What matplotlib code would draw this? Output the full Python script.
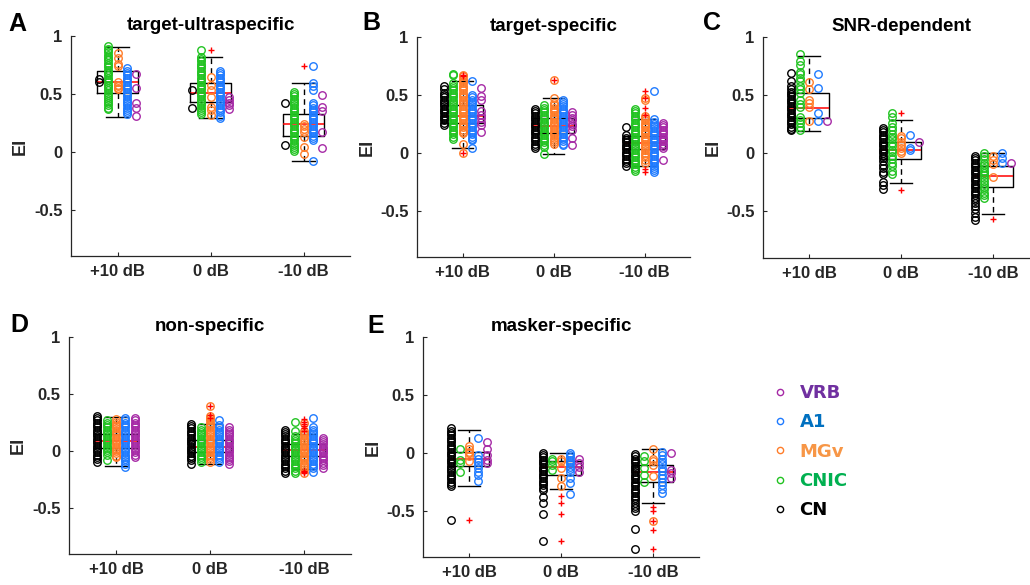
import matplotlib.pyplot as plt
from matplotlib.lines import Line2D
import numpy as np

plt.rcParams['font.family'] = ['Liberation Sans', 'DejaVu Sans']
plt.rcParams['axes.unicode_minus'] = False

conds = ['+10 dB', '0 dB', '-10 dB']
groups = ['CN', 'CNIC', 'MGv', 'A1', 'VRB']
group_cols = ['#000000', '#22c322', '#ff7d2a', '#1f7bff', '#a62aa6']
legend_order = ['VRB', 'A1', 'MGv', 'CNIC', 'CN']
legend_txt_cols = ['#7030a0', '#0070c0', '#f79646', '#00b050', '#000000']
offsets = [-0.2, -0.1, 0.0, 0.1, 0.2]

# ---- A: target-ultraspecific  (each condition: CN, CNIC, MGv, A1, VRB)
A_p10 = [[0.63, 0.60],
         [0.91, 0.89, 0.88, 0.86, 0.84, 0.82, 0.80, 0.79, 0.77, 0.75, 0.73, 0.71, 0.69, 0.68, 0.66, 0.64,
          0.62, 0.60, 0.58, 0.57, 0.55, 0.53, 0.51, 0.49, 0.47, 0.46, 0.44, 0.42, 0.40, 0.38, 0.37],
         [0.85, 0.81, 0.76, 0.74, 0.60, 0.58, 0.57, 0.55, 0.54],
         [0.72, 0.70, 0.68, 0.66, 0.64, 0.62, 0.60, 0.58, 0.56, 0.54, 0.52, 0.50, 0.48, 0.46, 0.44, 0.42,
          0.40, 0.38, 0.36, 0.34, 0.33],
         [0.67, 0.55, 0.42, 0.38, 0.31]]
A_0 = [[0.53, 0.38],
       [0.88, 0.82, 0.80, 0.78, 0.76, 0.74, 0.72, 0.70, 0.68, 0.66, 0.64, 0.62, 0.60, 0.58, 0.56, 0.54, 0.52,
        0.50, 0.48, 0.46, 0.44, 0.42, 0.40, 0.38, 0.36, 0.34, 0.33],
       [0.65, 0.58, 0.53, 0.47, 0.39, 0.36, 0.32],
       [0.70, 0.68, 0.66, 0.64, 0.62, 0.60, 0.58, 0.56, 0.54, 0.52, 0.50, 0.48, 0.46, 0.44, 0.42, 0.40, 0.38,
        0.36, 0.34, 0.31, 0.29],
       [0.47, 0.45, 0.42, 0.40, 0.37]]
A_m10 = [[0.42, 0.06],
         [0.52, 0.50, 0.48, 0.46, 0.44, 0.42, 0.40, 0.38, 0.36, 0.34, 0.32, 0.30, 0.28, 0.26, 0.24, 0.22, 0.20,
          0.18, 0.16, 0.14, 0.12, 0.10, 0.08, 0.06, 0.04, 0.02, 0.01],
         [0.24, 0.22, 0.20, 0.17, 0.13, 0.04, -0.02],
         [0.74, 0.59, 0.57, 0.53, 0.42, 0.40, 0.38, 0.36, 0.34, 0.32, 0.30, 0.28, 0.26, 0.24, 0.22, 0.20, 0.18,
          0.16, 0.14, 0.12, 0.10, -0.08],
         [0.49, 0.39, 0.35, 0.17, 0.03]]
# box: whislo, q1, median, q3, whishi
A_box = [[0.30, 0.51, 0.60, 0.70, 0.905], [0.29, 0.43, 0.51, 0.59, 0.82], [-0.08, 0.14, 0.24, 0.33, 0.59]]
A_out = [[], [0.88], [0.74]]

# ---- B: target-specific
B_p10 = [[0.58, 0.55, 0.52, 0.50, 0.48, 0.46, 0.44, 0.42, 0.40, 0.38, 0.36, 0.34, 0.32, 0.30, 0.28, 0.26, 0.24],
         [0.68, 0.67, 0.60, 0.58, 0.56, 0.54, 0.52, 0.50, 0.48, 0.46, 0.44, 0.42, 0.40, 0.38, 0.36, 0.34, 0.32,
          0.30, 0.28, 0.26, 0.24, 0.22, 0.20, 0.18, 0.16, 0.14, 0.12],
         [0.67, 0.66, 0.64, 0.62, 0.60, 0.58, 0.56, 0.54, 0.52, 0.50, 0.48, 0.46, 0.44, 0.42, 0.40, 0.38, 0.36,
          0.34, 0.32, 0.30, 0.28, 0.26, 0.24, 0.22, 0.20, 0.18, 0.17, 0.08, 0.0],
         [0.62, 0.50, 0.48, 0.46, 0.44, 0.42, 0.40, 0.38, 0.36, 0.34, 0.32, 0.30, 0.28, 0.26, 0.24, 0.22, 0.20,
          0.18, 0.16, 0.14, 0.12, 0.11, 0.04],
         [0.56, 0.49, 0.46, 0.36, 0.33, 0.30, 0.27, 0.24, 0.18]]
B_0 = [[0.38, 0.36, 0.34, 0.32, 0.30, 0.28, 0.26, 0.24, 0.22, 0.20, 0.18, 0.16, 0.14, 0.12, 0.10, 0.08, 0.06, 0.04],
       [0.41, 0.39, 0.37, 0.35, 0.33, 0.31, 0.29, 0.27, 0.25, 0.23, 0.21, 0.19, 0.17, 0.15, 0.13, 0.11, 0.09,
        0.07, 0.05, -0.01],
       [0.63, 0.47, 0.43, 0.41, 0.39, 0.37, 0.35, 0.33, 0.31, 0.29, 0.27, 0.25, 0.23, 0.21, 0.19, 0.17, 0.15,
        0.13, 0.11, 0.09, 0.08],
       [0.46, 0.44, 0.42, 0.40, 0.38, 0.36, 0.34, 0.32, 0.30, 0.28, 0.26, 0.24, 0.22, 0.20, 0.18, 0.16, 0.14,
        0.12, 0.10, 0.08, 0.07],
       [0.35, 0.33, 0.30, 0.28, 0.25, 0.23, 0.20, 0.13, 0.07]]
B_m10 = [[0.22, 0.15, 0.13, 0.11, 0.09, 0.07, 0.05, 0.03, 0.01, -0.01, -0.03, -0.05, -0.07, -0.09, -0.11],
         [0.38, 0.36, 0.34, 0.32, 0.30, 0.28, 0.26, 0.24, 0.22, 0.20, 0.18, 0.16, 0.14, 0.12, 0.10, 0.08, 0.06,
          0.04, 0.02, 0.0, -0.02, -0.04, -0.06, -0.08, -0.10, -0.12, -0.14, -0.16],
         [0.47, 0.46, 0.32, 0.30, 0.28, 0.26, 0.24, 0.22, 0.20, 0.18, 0.16, 0.14, 0.12, 0.10, 0.08, 0.06, 0.04,
          0.02, 0.0, -0.02, -0.04, -0.06, -0.09],
         [0.53, 0.29, 0.27, 0.25, 0.23, 0.21, 0.19, 0.17, 0.15, 0.13, 0.11, 0.09, 0.07, 0.05, 0.03, 0.01, -0.01,
          -0.03, -0.05, -0.07, -0.09, -0.11, -0.13, -0.15, -0.165],
         [0.26, 0.24, 0.22, 0.20, 0.18, 0.16, 0.14, 0.12, 0.10, 0.08, 0.06, 0.04, -0.06]]
B_box = [[0.04, 0.26, 0.32, 0.41, 0.62], [-0.01, 0.17, 0.23, 0.30, 0.47], [-0.115, 0.03, 0.087, 0.145, 0.29]]
B_out = [[0.675, 0.66, 0.0], [0.63], [0.53, 0.47, 0.385, 0.33, -0.14, -0.165]]

# ---- C: SNR-dependent
C_p10 = [[0.69, 0.62, 0.58, 0.55, 0.53, 0.51, 0.49, 0.47, 0.45, 0.43, 0.41, 0.39, 0.37, 0.35, 0.33, 0.31, 0.29,
          0.27, 0.25, 0.23, 0.21, 0.20],
         [0.85, 0.79, 0.76, 0.70, 0.68, 0.65, 0.62, 0.58, 0.55, 0.52, 0.46, 0.42, 0.40, 0.31, 0.29, 0.26, 0.23, 0.20],
         [0.61, 0.55, 0.46, 0.43, 0.40, 0.275],
         [0.685, 0.56, 0.35, 0.28],
         [0.275]]
C_0 = [[0.22, 0.20, 0.18, 0.16, 0.14, 0.12, 0.10, 0.08, 0.06, 0.04, 0.02, 0.0, -0.02, -0.04, -0.07, -0.10,
        -0.13, -0.16, -0.18, -0.25, -0.27, -0.31],
       [0.35, 0.31, 0.26, 0.23, 0.20, 0.17, 0.14, 0.12, 0.09, 0.06, 0.03, 0.01, -0.02, -0.05, -0.08, -0.11,
        -0.15, -0.18],
       [0.15, 0.13, 0.10, 0.07, 0.05, 0.02, 0.0],
       [0.16, 0.05, 0.03],
       [0.10]]
C_m10 = [[-0.02, -0.04, -0.06, -0.08, -0.10, -0.12, -0.14, -0.16, -0.18, -0.20, -0.22, -0.24, -0.26, -0.28,
          -0.30, -0.32, -0.34, -0.36, -0.38, -0.40, -0.43, -0.45, -0.48, -0.51, -0.55, -0.57],
         [0.0, -0.02, -0.05, -0.08, -0.10, -0.13, -0.15, -0.17, -0.19, -0.21, -0.24, -0.26, -0.29, -0.31,
          -0.34, -0.36, -0.38],
         [-0.025, -0.055, -0.09, -0.20],
         [0.0, -0.04, -0.08],
         [-0.08]]
C_box = [[0.195, 0.30, 0.387, 0.52, 0.84], [-0.255, -0.05, 0.026, 0.10, 0.29], [-0.52, -0.29, -0.198, -0.105, 0.0]]
C_out = [[], [0.345, -0.315], [-0.565]]

# ---- D: non-specific
D_p10 = [[0.31, 0.29, 0.27, 0.25, 0.23, 0.21, 0.19, 0.17, 0.15, 0.13, 0.11, 0.09, 0.07, 0.05, 0.03, 0.01,
          -0.01, -0.03, -0.05, -0.07, -0.095],
         [0.27, 0.25, 0.23, 0.21, 0.19, 0.17, 0.15, 0.13, 0.11, 0.09, 0.07, 0.05, 0.03, 0.01, -0.01, -0.035, -0.075],
         [0.285, 0.26, 0.24, 0.22, 0.20, 0.18, 0.16, 0.14, 0.12, 0.10, 0.08, 0.06, 0.04, 0.02, 0.0, -0.02,
          -0.04, -0.055],
         [0.29, 0.27, 0.25, 0.23, 0.21, 0.19, 0.17, 0.15, 0.13, 0.11, 0.09, 0.07, 0.05, 0.03, 0.01, -0.01,
          -0.03, -0.05, -0.07, -0.09, -0.11, -0.135],
         [0.29, 0.27, 0.25, 0.23, 0.21, 0.19, 0.17, 0.15, 0.13, 0.11, 0.09, 0.07, 0.05, 0.03, 0.01, -0.01,
          -0.03, -0.055]]
D_0 = [[0.24, 0.22, 0.20, 0.18, 0.16, 0.14, 0.12, 0.10, 0.08, 0.06, 0.04, 0.02, 0.0, -0.02, -0.04, -0.06,
        -0.08, -0.11],
       [0.21, 0.19, 0.17, 0.15, 0.13, 0.11, 0.09, 0.07, 0.05, 0.03, 0.01, -0.01, -0.03, -0.05, -0.07, -0.095],
       [0.395, 0.31, 0.29, 0.27, 0.25, 0.23, 0.21, 0.19, 0.17, 0.15, 0.13, 0.11, 0.09, 0.07, 0.05, 0.03, 0.01,
        -0.01, -0.03, -0.05, -0.07, -0.095],
       [0.27, 0.23, 0.21, 0.19, 0.17, 0.15, 0.13, 0.11, 0.09, 0.07, 0.05, 0.03, 0.01, -0.01, -0.03, -0.05,
        -0.07, -0.095],
       [0.21, 0.19, 0.17, 0.15, 0.13, 0.11, 0.09, 0.07, 0.05, 0.03, 0.01, -0.01, -0.03, -0.05, -0.07, -0.09, -0.11]]
D_m10 = [[0.19, 0.17, 0.15, 0.13, 0.11, 0.09, 0.07, 0.05, 0.03, 0.01, -0.01, -0.03, -0.05, -0.07, -0.09, -0.11,
          -0.13, -0.15, -0.17, -0.195],
         [0.26, 0.18, 0.135, 0.11, 0.09, 0.07, 0.05, 0.03, 0.01, -0.01, -0.03, -0.05, -0.07, -0.09, -0.11,
          -0.13, -0.15, -0.17, -0.19],
         [0.25, 0.18, 0.16, 0.14, 0.12, 0.10, 0.08, 0.06, 0.04, 0.02, 0.0, -0.02, -0.04, -0.06, -0.08, -0.10,
          -0.12, -0.14, -0.16, -0.19],
         [0.29, 0.21, 0.19, 0.17, 0.15, 0.13, 0.11, 0.09, 0.07, 0.05, 0.03, 0.01, -0.01, -0.03, -0.05, -0.07,
          -0.09, -0.11, -0.13, -0.15, -0.18],
         [0.115, 0.10, 0.08, 0.06, 0.04, 0.02, 0.0, -0.02, -0.04, -0.06, -0.08, -0.10, -0.12, -0.15]]
D_box = [[-0.13, 0.03, 0.087, 0.155, 0.30], [-0.11, -0.01, 0.04, 0.10, 0.235], [-0.16, -0.04, 0.01, 0.06, 0.155]]
D_out = [[], [0.395, 0.32, 0.29], [0.28, 0.26, 0.24, 0.22, 0.20, 0.18, -0.17, -0.18, -0.19]]

# ---- E: masker-specific
E_p10 = [[0.21, 0.19, 0.17, 0.15, 0.13, 0.11, 0.09, 0.07, 0.05, 0.03, 0.01, -0.01, -0.03, -0.05, -0.07, -0.09,
          -0.11, -0.13, -0.15, -0.17, -0.19, -0.21, -0.23, -0.25, -0.27, -0.29, -0.58],
         [0.03, -0.06, -0.085, -0.165],
         [0.055, 0.035, 0.01, -0.005, -0.03, -0.07],
         [0.13, -0.02, -0.05, -0.08, -0.105, -0.135, -0.165, -0.19, -0.24],
         [0.095, 0.035, -0.02, -0.065, -0.09]]
E_0 = [[0.0, -0.02, -0.04, -0.06, -0.08, -0.10, -0.12, -0.14, -0.16, -0.18, -0.20, -0.22, -0.24, -0.26, -0.28,
        -0.30, -0.32, -0.38, -0.435, -0.53, -0.765],
       [-0.05, -0.075, -0.105, -0.145],
       [-0.05, -0.07, -0.135, -0.22, -0.285],
       [0.0, -0.02, -0.04, -0.06, -0.08, -0.10, -0.12, -0.14, -0.165, -0.22, -0.265, -0.355],
       [-0.055, -0.09, -0.125, -0.165]]
E_m10 = [[-0.01, -0.03, -0.05, -0.07, -0.09, -0.11, -0.13, -0.15, -0.17, -0.19, -0.21, -0.23, -0.25, -0.27,
          -0.29, -0.31, -0.33, -0.35, -0.37, -0.39, -0.41, -0.43, -0.46, -0.48, -0.505, -0.66, -0.835],
         [-0.025, -0.075, -0.135, -0.19, -0.25],
         [0.035, -0.05, -0.075, -0.105, -0.20, -0.585],
         [0.01, -0.02, -0.05, -0.08, -0.10, -0.13, -0.16, -0.19, -0.22, -0.25, -0.28, -0.31, -0.345],
         [0.0, -0.15, -0.175, -0.22]]
E_box = [[-0.285, -0.115, -0.05, 0.01, 0.20], [-0.31, -0.19, -0.12, -0.075, 0.0], [-0.435, -0.25, -0.165, -0.105, 0.03]]
E_out = [[-0.58], [-0.37, -0.435, -0.53, -0.765], [-0.465, -0.505, -0.585, -0.665, -0.835]]

yticks = [-0.5, 0, 0.5, 1]
ytick_labels = ['-0.5', '0', '0.5', '1']

W, H = 1030, 585
fig = plt.figure(figsize=(W / 100, H / 100), dpi=100)


def px_axes(l, r, t, b):
    return fig.add_axes([l / W, 1 - b / H, (r - l) / W, (b - t) / H])


panels = [
    ('A', 'target-ultraspecific', px_axes(71, 350, 36, 256), [A_p10, A_0, A_m10], A_box, A_out, (8, 31)),
    ('B', 'target-specific', px_axes(417, 690, 37, 257), [B_p10, B_0, B_m10], B_box, B_out, (362, 30)),
    ('C', 'SNR-dependent', px_axes(763, 1039, 37, 258), [C_p10, C_0, C_m10], C_box, C_out, (703, 30)),
    ('D', 'non-specific', px_axes(69, 351, 337, 554), [D_p10, D_0, D_m10], D_box, D_out, (10, 332)),
    ('E', 'masker-specific', px_axes(423, 699, 337, 557), [E_p10, E_0, E_m10], E_box, E_out, (367, 333)),
]

axcol = '#262626'
for letter, title, ax, cond_data, box, out, lpos in panels:
    stats = []
    for b, o in zip(box, out):
        stats.append(dict(whislo=b[0], q1=b[1], med=b[2], q3=b[3], whishi=b[4], fliers=o))
    bp = ax.bxp(stats, positions=[1, 2, 3], widths=0.44, capwidths=0.24, showfliers=True,
                boxprops=dict(color='black', lw=1.0),
                medianprops=dict(color='red', lw=1.1),
                whiskerprops=dict(color='black', lw=1.0, ls=(0, (4, 3))),
                capprops=dict(color='black', lw=1.0),
                flierprops=dict(marker='+', markeredgecolor='red', markersize=4, mew=1.0),
                zorder=2)
    for f in bp['fliers']:
        f.set_zorder(5)
    for ci, groups_vals in enumerate(cond_data):
        for gi, vals in enumerate(groups_vals):
            ax.plot(np.full(len(vals), ci + 1 + offsets[gi]), vals, 'o', mfc='none',
                    mec=group_cols[gi], ms=5.4, mew=1.0, zorder=3)
    ax.set_xlim(0.5, 3.5)
    ax.set_ylim(-0.9, 1)
    ax.set_xticks([1, 2, 3], labels=conds)
    ax.set_yticks(yticks, labels=ytick_labels)
    for s in ['top', 'right']:
        ax.spines[s].set_visible(False)
    for s in ['left', 'bottom']:
        ax.spines[s].set_color(axcol)
        ax.spines[s].set_linewidth(0.9)
    ax.tick_params(direction='in', length=3, width=0.8, color=axcol, labelcolor=axcol, pad=6)
    for lab in ax.get_xticklabels() + ax.get_yticklabels():
        lab.set_fontweight('bold')
        lab.set_fontsize(12)
    ax.set_title(title, fontsize=13.5, fontweight='bold', pad=4, color='black')
    ax.set_ylabel('EI', fontsize=13, fontweight='bold', color=axcol)
    ax.yaxis.set_label_coords(-0.15, 0.5)
    fig.text(lpos[0] / W, 1 - lpos[1] / H, letter, fontsize=18, fontweight='bold', va='baseline', ha='left')

handles = []
for name in legend_order:
    gi = groups.index(name)
    handles.append(Line2D([], [], ls='none', marker='o', mfc='none', mec=group_cols[gi], ms=4.5, mew=1.0))
leg = fig.legend(handles, legend_order, loc='upper left', bbox_to_anchor=(758 / W, 1 - 368 / H),
                 frameon=False, handlelength=0.6, handletextpad=0.8, labelspacing=0.62,
                 prop=dict(family='DejaVu Sans', weight='bold', size=13))
for t, c in zip(leg.get_texts(), legend_txt_cols):
    t.set_color(c)

fig.savefig('out.png', dpi=100)
